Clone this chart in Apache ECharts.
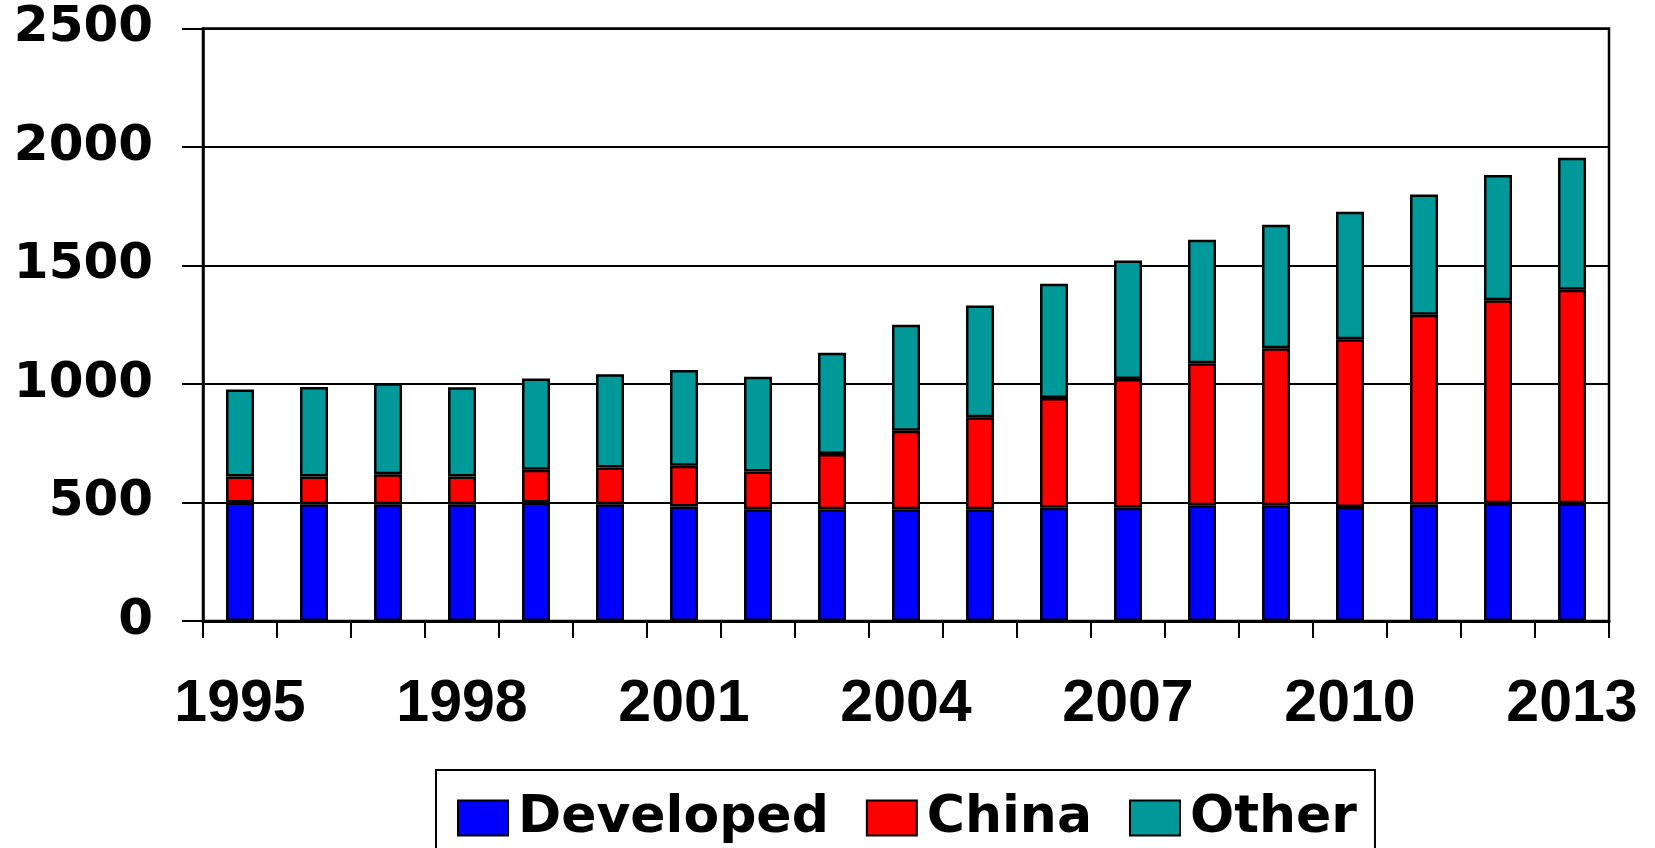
<!DOCTYPE html>
<html>
<head>
<meta charset="utf-8">
<script src="https://cdn.jsdelivr.net/npm/echarts@6/dist/echarts.min.js"></script>
<style>
  html, body { margin: 0; padding: 0; background: #ffffff; }
  #chart { width: 1655px; height: 848px; }
</style>
</head>
<body>
<div id="chart"></div>
<script>
  // values
  const years = ['1995','1996','1997','1998','1999','2000','2001','2002','2003','2004',
                 '2005','2006','2007','2008','2009','2010','2011','2012','2013'];
  const developed = [500, 493, 493, 493, 500, 493, 483, 471, 471, 471, 471, 478, 478, 488, 488, 481, 490, 497, 497];
  const china     = [110, 117, 126, 117, 138, 155, 172, 160, 234, 332, 389, 463, 543, 600, 663, 708, 802, 856, 901];
  const other     = [367, 377, 384, 376, 385, 393, 404, 400, 427, 447, 471, 482, 500, 521, 521, 538, 508, 529, 557];
  const seriesNames = ['Developed', 'China', 'Other'];
  const seriesColors = ['#0000ff', '#ff0000', '#009999'];

  let myChart = echarts.init(document.getElementById('chart'));

  const barStyle = {
    borderColor: '#000',
    borderWidth: 2.5
  };

  let option = {
    animation: false,
    grid: {
      left: 203,
      right: 46,
      top: 28.5,
      bottom: 227,
      outerBoundsMode: 'none',
      containLabel: false,
      show: true,
      borderColor: '#000',
      borderWidth: 2.5
    },
    legend: {
      data: seriesNames,
      left: 436,
      top: 770,
      padding: [22, 18, 40, 21],
      itemWidth: 50,
      itemHeight: 35,
      itemGap: 37,
      borderColor: '#000',
      borderWidth: 2,
      icon: 'rect',
      itemStyle: { borderColor: '#000', borderWidth: 2 },
      textStyle: {
        fontFamily: 'DejaVu Sans',
        fontWeight: 'bold',
        fontSize: 52,
        color: '#000',
        padding: [0, 0, 0, 5]
      }
    },
    xAxis: {
      type: 'category',
      data: years,
      boundaryGap: true,
      axisLine: { lineStyle: { color: '#000', width: 3 } },
      axisTick: { show: true, interval: 0, length: 17, lineStyle: { color: '#000', width: 2 } },
      axisLabel: {
        interval: 2,
        margin: 54,
        fontFamily: 'Liberation Sans',
        fontWeight: 'bold',
        fontSize: 59,
        color: '#000'
      }
    },
    yAxis: {
      type: 'value',
      min: 0,
      max: 2500,
      interval: 500,
      axisLine: { show: true, lineStyle: { color: '#000', width: 2.5 } },
      axisTick: { show: true, length: 21, lineStyle: { color: '#000', width: 2 } },
      splitLine: { show: true, lineStyle: { color: '#000', width: 2 } },
      axisLabel: {
        margin: 50,
        fontFamily: 'DejaVu Sans',
        fontWeight: 'bold',
        fontSize: 50,
        color: '#000',
        formatter: function (v) { return String(v); }
      }
    },
    series: [
      { name: seriesNames[0], type: 'bar', stack: 'total', barWidth: 28, data: developed,
        itemStyle: Object.assign({ color: seriesColors[0] }, barStyle) },
      { name: seriesNames[1], type: 'bar', stack: 'total', barWidth: 28, data: china,
        itemStyle: Object.assign({ color: seriesColors[1] }, barStyle) },
      { name: seriesNames[2], type: 'bar', stack: 'total', barWidth: 28, data: other,
        itemStyle: Object.assign({ color: seriesColors[2] }, barStyle) }
    ]
  };

  myChart.setOption(option);
  window.addEventListener('resize', function() { myChart.resize(); });
</script>
</body>
</html>
